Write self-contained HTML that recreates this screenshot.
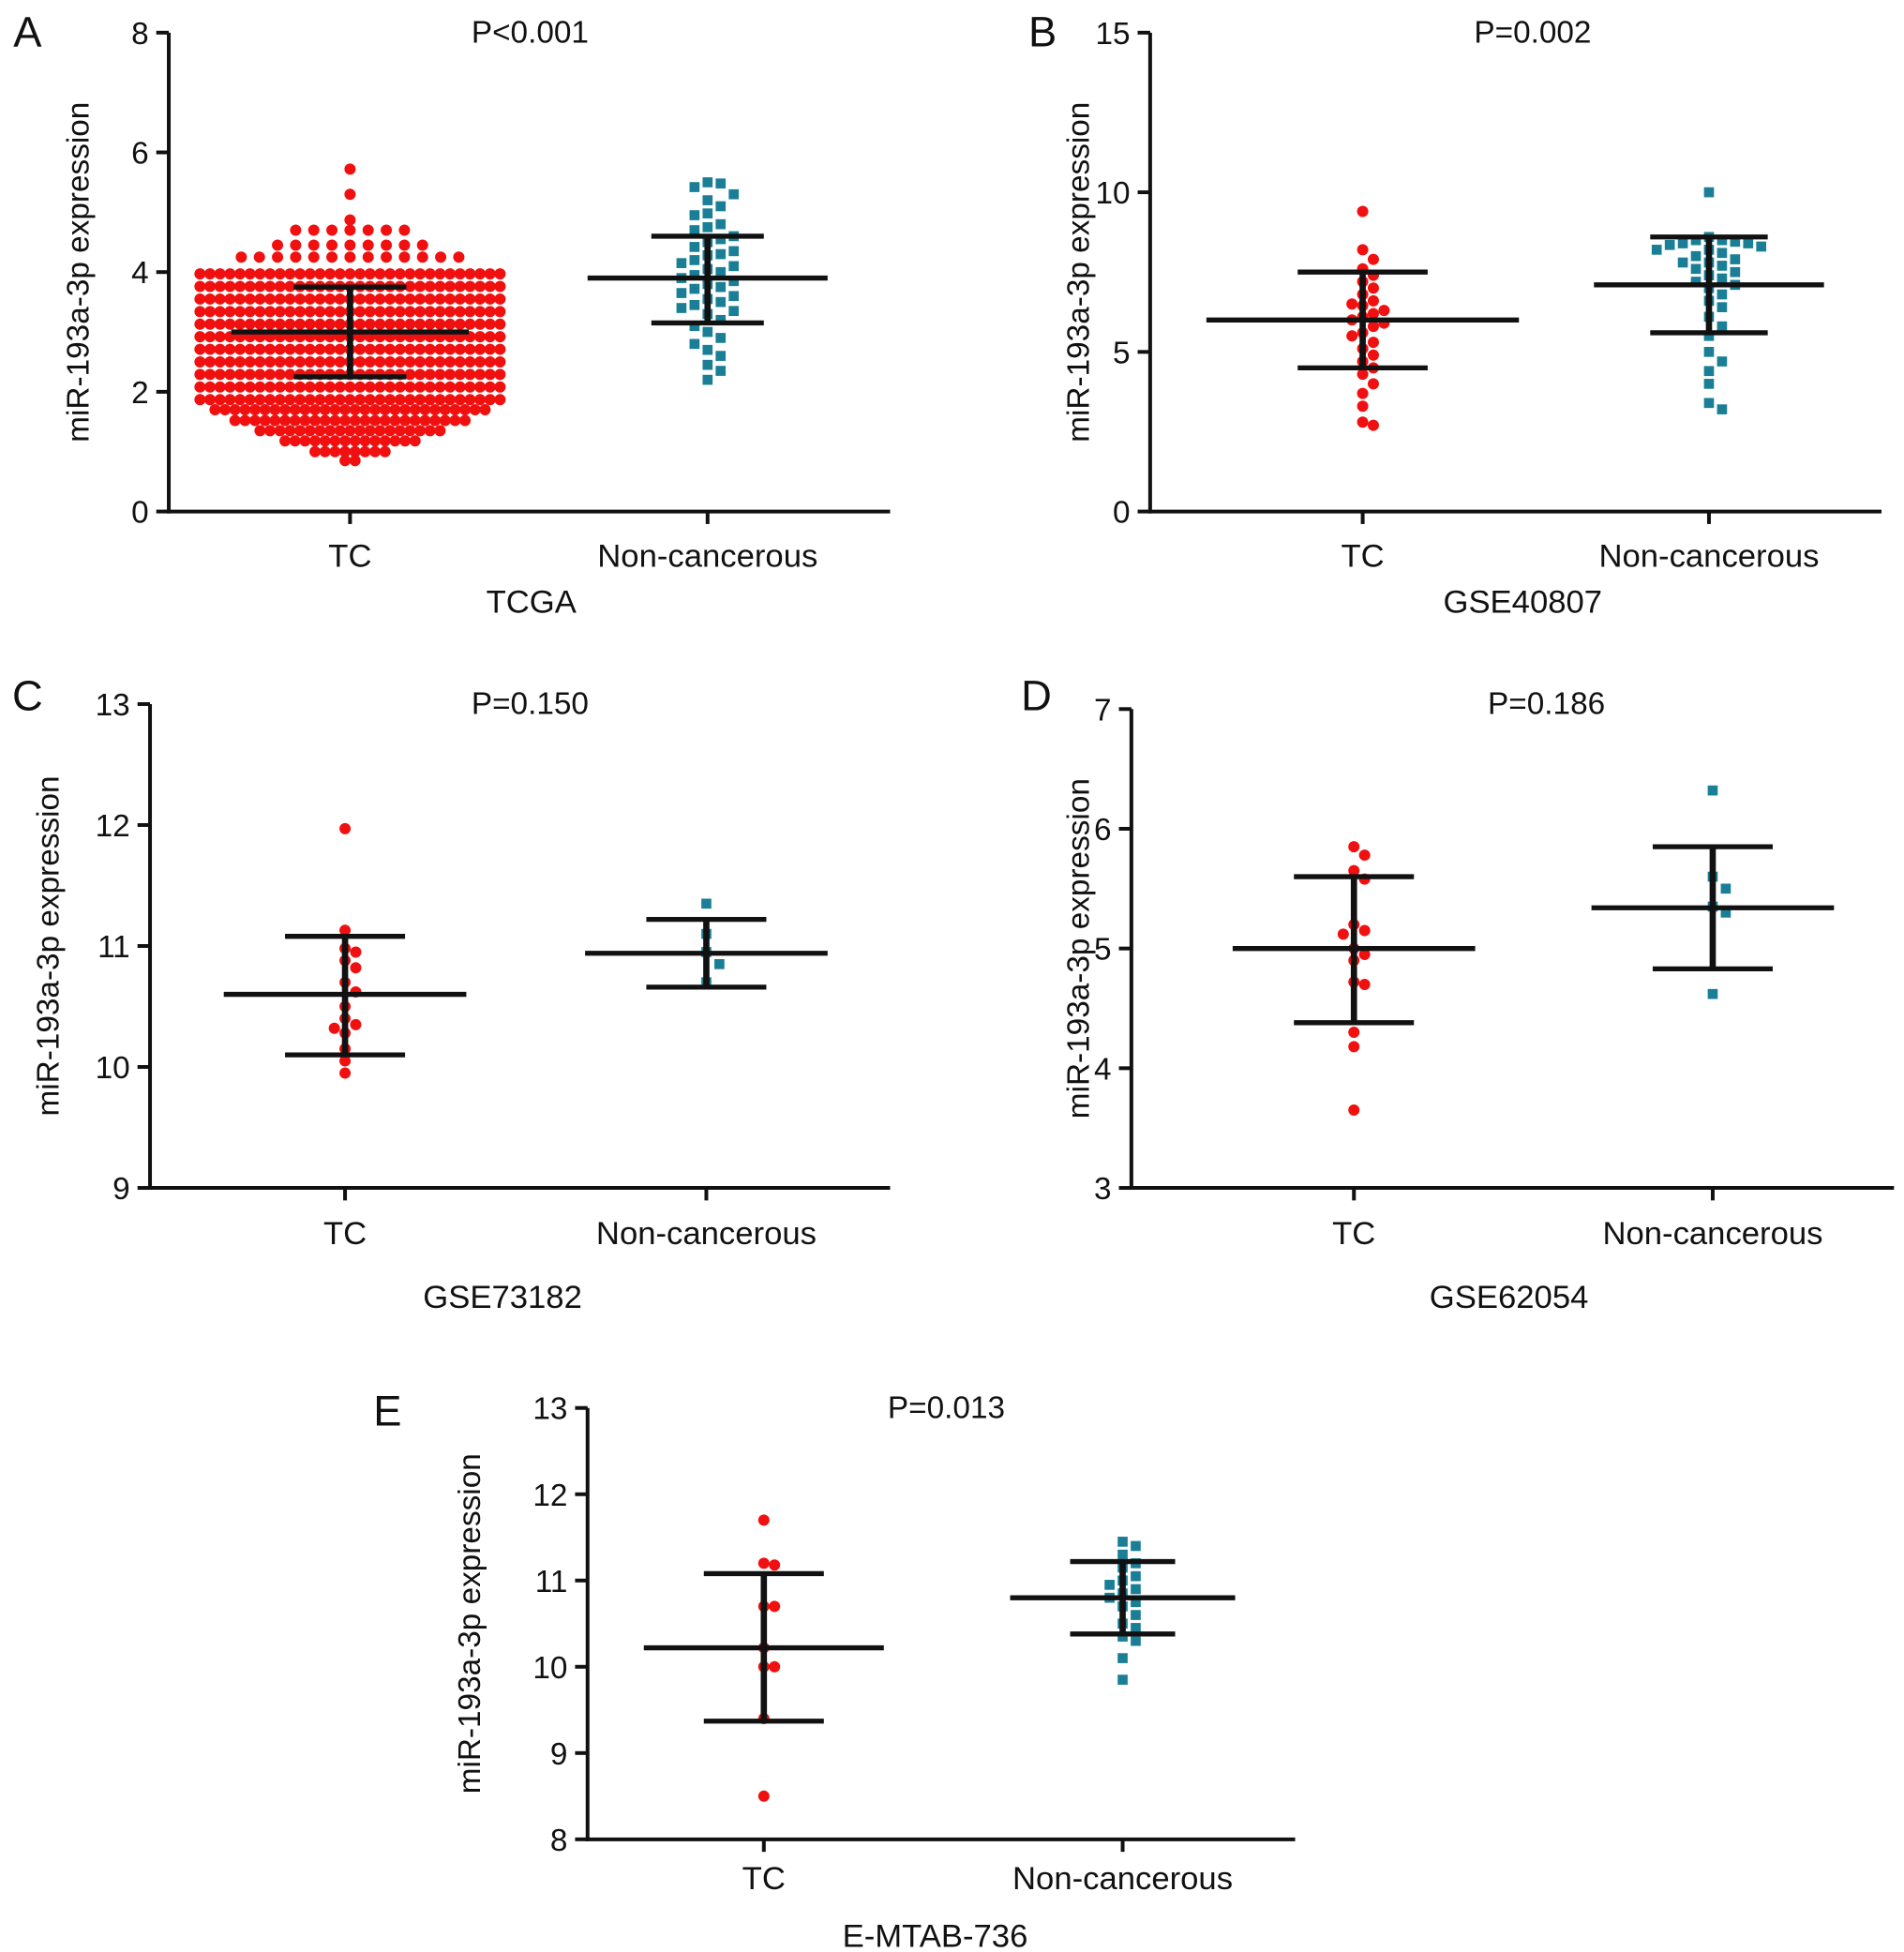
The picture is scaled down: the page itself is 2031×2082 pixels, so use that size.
<!DOCTYPE html>
<html><head><meta charset="utf-8"><style>
html,body{margin:0;padding:0;background:#fff}
svg{display:block}
text{font-family:"Liberation Sans",Arial,sans-serif;fill:#111}
</style></head><body>
<svg id="fig" width="2031" height="2082" viewBox="0 0 1523 1561" xmlns="http://www.w3.org/2000/svg"></svg>
<script>
// ---- data ----
const categories = ["TC","Non-cancerous"];
const panelLetters = ["A","B","C","D","E"];
const datasetNames = ["TCGA","GSE40807","GSE73182","GSE62054","E-MTAB-736"];
const pValues = ["P<0.001","P=0.002","P=0.150","P=0.186","P=0.013"];
// Panel A TC: row values and counts (dense beeswarm)
const aTcRowValues = [5.72,5.3,4.87,4.7,4.45,4.25,3.97,3.76,3.55,3.34,3.13,2.92,2.71,2.5,2.29,2.08,1.87,1.7,1.52,1.35,1.18,1.0,0.85];
const aTcRowCounts = [1,1,1,7,9,13,31,31,31,31,31,31,31,31,31,31,31,28,24,19,14,8,2];
const aNon = [5.5,5.48,5.42,5.3,5.2,5.1,4.98,4.95,4.8,4.75,4.7,4.6,4.55,4.5,4.42,4.35,4.3,4.28,4.2,4.15,4.1,4.05,4.0,3.95,3.9,3.85,3.8,3.75,3.72,3.65,3.6,3.55,3.5,3.45,3.4,3.35,3.3,3.2,3.1,3.0,2.9,2.8,2.7,2.6,2.45,2.35,2.2];
const bTc = [9.4,8.2,7.9,7.6,7.4,7.2,7.0,6.8,6.6,6.5,6.45,6.3,6.2,6.1,6.0,5.9,5.8,5.6,5.5,5.3,5.1,4.9,4.7,4.5,4.3,4.0,3.7,3.3,2.8,2.7];
const bNon = [10.0,8.6,8.5,8.5,8.45,8.4,8.4,8.35,8.3,8.2,8.2,8.1,8.0,7.9,7.8,7.8,7.7,7.6,7.5,7.4,7.3,7.2,7.1,7.0,6.8,6.6,6.4,6.1,5.8,5.5,5.0,4.7,4.4,4.0,3.4,3.2];
const cTc = [11.97,11.13,10.98,10.95,10.88,10.82,10.7,10.62,10.5,10.4,10.35,10.32,10.28,10.15,10.05,9.95];
const cNon = [11.35,11.1,10.95,10.85,10.7];
const dTc = [5.85,5.78,5.65,5.58,5.2,5.15,5.12,5.0,4.95,4.9,4.72,4.7,4.3,4.18,3.65];
const dNon = [6.32,5.6,5.5,5.35,5.3,4.62];
const eTc = [11.7,11.2,11.18,10.7,10.7,10.22,10.0,10.0,9.4,8.5];
const eNon = [11.45,11.4,11.3,11.2,11.15,11.05,11.0,10.95,10.9,10.85,10.8,10.75,10.7,10.6,10.5,10.45,10.35,10.3,10.1,9.85];
// summary stats: [mean, upper SD, lower SD]
const statsTc = [[3.0,3.75,2.25],[6.0,7.5,4.5],[10.6,11.08,10.1],[5.0,5.6,4.38],[10.22,11.08,9.37]];
const statsNon = [[3.9,4.6,3.15],[7.1,8.6,5.6],[10.94,11.22,10.66],[5.34,5.85,4.83],[10.8,11.22,10.38]];
const yTicks = [[0,2,4,6,8],[0,5,10,15],[9,10,11,12,13],[3,4,5,6,7],[8,9,10,11,12,13]];

// ---- layout ----
const panels = [
 {ax:135,top:26,bot:409,xEnd:712,c1:280,c2:566,min:0,max:8,letter:[22,25],title:424,pY:25,dsX:425,dsY:481,catY:444,yt:62,mw:[95,96],cw:[45,45]},
 {ax:920,top:26,bot:409,xEnd:1505,c1:1090,c2:1367,min:0,max:15,letter:[834,25],title:1226,pY:25,dsX:1218,dsY:481,catY:444,yt:862,mw:[125,92],cw:[52,47]},
 {ax:120,top:563,bot:950,xEnd:712,c1:276,c2:565,min:9,max:13,letter:[22,556],title:424,pY:562,dsX:402,dsY:1037,catY:986,yt:38,mw:[97,97],cw:[48,48]},
 {ax:905,top:567,bot:950,xEnd:1515,c1:1083,c2:1370,min:3,max:7,letter:[829,556],title:1237,pY:562,dsX:1207,dsY:1037,catY:986,yt:862,mw:[97,97],cw:[48,48]},
 {ax:470,top:1126,bot:1471,xEnd:1036,c1:611,c2:898,min:8,max:13,letter:[310,1128],title:757,pY:1125,dsX:748,dsY:1548,catY:1502,yt:375,mw:[96,90],cw:[48,42]}
];
const tcSets=[null,bTc,cTc,dTc,eTc], nonSets=[aNon,bNon,cNon,dNon,eNon];

const NS="http://www.w3.org/2000/svg", svg=document.getElementById('fig');
function mk(tag,attrs,parent){const e=document.createElementNS(NS,tag);for(const k in attrs)e.setAttribute(k,attrs[k]);(parent||svg).appendChild(e);return e;}
function txt(s,x,y,size,anchor,parent){const t=mk('text',{x:x,y:y,'font-size':size,'text-anchor':anchor||'middle'},parent);t.textContent=s;return t;}

function swarm(vals,yScale,cx,d){
  const sorted=vals.slice().sort((a,b)=>b-a), placed=[];
  sorted.forEach(v=>{const y=yScale(v);
    for(let k=0;k<200;k++){const off=(k%2?1:-1)*Math.ceil(k/2)*d*0.95;const x=cx+off;
      if(placed.every(p=>(p[0]-x)**2+(p[1]-y)**2>=d*d*0.85)){placed.push([x,y]);break;}}
  });
  return placed;
}
function rows(values,counts,yScale,cx){
  const out=[];
  values.forEach((v,i)=>{const n=counts[i];const step=v>4?14.5:8;for(let k=0;k<n;k++)out.push([cx+(k-(n-1)/2)*step,yScale(v)]);});
  return out;
}

panels.forEach((p,i)=>{
  const g=mk('g',{});
  
  
  const y=v=>p.bot-(v-p.min)/(p.max-p.min)*(p.bot-p.top);
  const ya=mk('line',{x1:p.ax,y1:p.top,x2:p.ax,y2:p.bot+1.5,stroke:'#111','stroke-width':3},g);
  
  const xa=mk('line',{x1:p.ax-1.5,y1:p.bot,x2:p.xEnd,y2:p.bot,stroke:'#111','stroke-width':3},g);
  
  yTicks[i].forEach(t=>{
    mk('line',{x1:p.ax-10,y1:y(t),x2:p.ax,y2:y(t),stroke:'#111','stroke-width':3},g);
    const tl=txt(String(t),p.ax-16,y(t)+9,25,'end',g);
    
  });
  [p.c1,p.c2].forEach((cx,j)=>{
    mk('line',{x1:cx,y1:p.bot,x2:cx,y2:p.bot+10,stroke:'#111','stroke-width':3},g);
    const cl=txt(categories[j],cx,p.catY+9,26,'middle',g);
    
  });
  const yt=txt('miR-193a-3p expression',0,0,25,'middle',g);
  yt.setAttribute('transform',`translate(${p.yt+9},${(p.top+p.bot)/2}) rotate(-90)`);
  
  const ds=txt(datasetNames[i],p.dsX,p.dsY+9,26,'middle',g);
  
  const pv=txt(pValues[i],p.title,p.pY+9,25,'middle',g);
  
  const lt=txt(panelLetters[i],p.letter[0],p.letter[1]+12,34,'middle',g);
  
  const tcPts = i===0 ? rows(aTcRowValues,aTcRowCounts,y,p.c1) : swarm(tcSets[i],y,p.c1,9);
  tcPts.forEach(pt=>{
    const c=mk('circle',{cx:pt[0],cy:pt[1],r:4.5,fill:'#f01010'},g);
    
  });
  swarm(nonSets[i],y,p.c2,11).forEach(pt=>{
    const r=mk('rect',{x:pt[0]-4,y:pt[1]-4,width:8,height:8,fill:'#1a7f96'},g);
    
  });
  [[statsTc[i],p.c1],[statsNon[i],p.c2]].forEach(([s,cx],j)=>{
    const eg=mk('g',{stroke:'#111','stroke-width':4},g);
    
    mk('line',{x1:cx-p.mw[j],y1:y(s[0]),x2:cx+p.mw[j],y2:y(s[0])},eg);
    mk('line',{x1:cx,y1:y(s[1]),x2:cx,y2:y(s[2]),'stroke-width':5},eg);
    mk('line',{x1:cx-p.cw[j],y1:y(s[1]),x2:cx+p.cw[j],y2:y(s[1])},eg);
    mk('line',{x1:cx-p.cw[j],y1:y(s[2]),x2:cx+p.cw[j],y2:y(s[2])},eg);
  });
});
</script>
</body></html>
